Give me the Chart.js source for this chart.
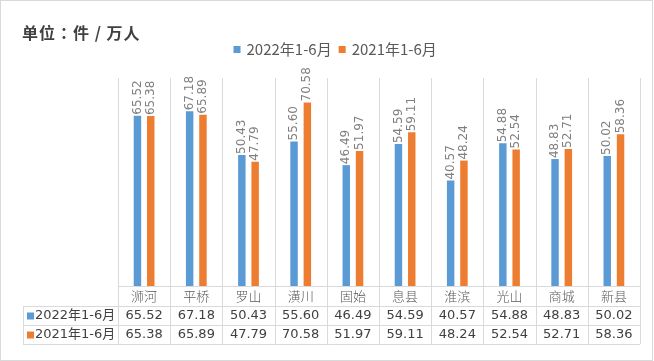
<!DOCTYPE html>
<html>
<head>
<meta charset="utf-8">
<script src="https://cdn.jsdelivr.net/npm/chart.js@4/dist/chart.umd.min.js"></script>
<style>
html,body{margin:0;padding:0;background:#fff;}
canvas{display:block;}
</style>
</head>
<body>
<canvas id="c" width="654" height="361"></canvas>
<script>
const categories = ['浉河','平桥','罗山','潢川','固始','息县','淮滨','光山','商城','新县'];
const seriesNames = ['2022年1-6月','2021年1-6月'];
const values2022 = [65.52,67.18,50.43,55.60,46.49,54.59,40.57,54.88,48.83,50.02];
const values2021 = [65.38,65.89,47.79,70.58,51.97,59.11,48.24,52.54,52.71,58.36];
const colors = ['#5b9bd5','#ed7d31'];
const unitTitle = '单位：件 / 万人';

const LINE = '#d9d9d9';
const CJK = '"Noto Sans CJK SC"';

const tablePlugin = {
  id: 'tablePlugin',
  beforeDatasetsDraw(chart) {
    const ctx = chart.ctx;
    const ca = chart.chartArea;
    const xs = chart.scales.x;
    const n = categories.length;
    const step = (ca.right - ca.left) / n;
    const rowCat = ca.bottom + 20, row1 = rowCat + 19, row2 = row1 + 19;
    const tableLeft = 23;
    ctx.save();
    // outer border
    ctx.strokeStyle = LINE; ctx.lineWidth = 1;
    ctx.strokeRect(0.5, 0.5, chart.width - 2, chart.height - 1);
    // vertical lines
    ctx.beginPath();
    for (let i = 0; i <= n; i++) {
      const x = Math.round(xs.getPixelForValue(i) - step / 2) + 0.5;
      ctx.moveTo(x, ca.top); ctx.lineTo(x, row2);
    }
    ctx.moveTo(tableLeft + 0.5, rowCat); ctx.lineTo(tableLeft + 0.5, row2);
    // horizontal lines
    ctx.moveTo(ca.left, ca.bottom + 0.5); ctx.lineTo(ca.right, ca.bottom + 0.5);
    [rowCat, row1, row2].forEach(y => { ctx.moveTo(tableLeft, y + 0.5); ctx.lineTo(ca.right, y + 0.5); });
    ctx.stroke();

    // category labels
    ctx.textAlign = 'center'; ctx.textBaseline = 'middle';
    ctx.fillStyle = '#595959';
    ctx.font = '300 13px ' + CJK;
    categories.forEach((c, i) => ctx.fillText(c, xs.getPixelForValue(i), ca.bottom + 10));
    // values
    ctx.fillStyle = '#404040';
    ctx.font = '13px "DejaVu Sans", ' + CJK;
    const rows = [values2022, values2021];
    const ys = [rowCat + 10, row1 + 10];
    rows.forEach((arr, r) => arr.forEach((v, i) => ctx.fillText(v.toFixed(2), xs.getPixelForValue(i), ys[r])));
    // series labels
    ctx.textAlign = 'left';
    chart.data.datasets.forEach((ds, r) => {
      ctx.fillStyle = ds.backgroundColor;
      ctx.fillRect(27, ys[r] - 3.5, 7, 7);
      ctx.fillStyle = '#404040';
      ctx.fillText(ds.label, 35, ys[r]);
    });

    // title
    ctx.font = 'bold 16px "Noto Sans CJK TC", ' + CJK;
    ctx.letterSpacing = '1px';
    ctx.fillStyle = '#404040';
    ctx.textAlign = 'left';
    ctx.fillText(unitTitle, 22, 33);
    ctx.letterSpacing = '0px';

    // legend
    ctx.font = '15px "Liberation Sans Narrow", ' + CJK;
    const widths = chart.data.datasets.map(ds => ctx.measureText(ds.label).width);
    const box = 7, gap = 6, sep = 7;
    let lx = 233.5;
    chart.data.datasets.forEach((ds, r) => {
      ctx.fillStyle = ds.backgroundColor;
      ctx.fillRect(lx, 46, box, box);
      lx += box + gap;
      ctx.fillStyle = '#595959';
      ctx.fillText(ds.label, lx, 49.5);
      lx += widths[r] + sep;
    });
    ctx.restore();
  },
  afterDatasetsDraw(chart) {
    const ctx = chart.ctx;
    ctx.save();
    ctx.font = '12px "DejaVu Sans"';
    ctx.fillStyle = '#7f7f7f';
    ctx.textAlign = 'left';
    ctx.textBaseline = 'middle';
    chart.data.datasets.forEach((ds, d) => {
      const meta = chart.getDatasetMeta(d);
      meta.data.forEach((bar, i) => {
        ctx.save();
        ctx.translate(bar.x, bar.y - 1);
        ctx.rotate(-Math.PI / 2);
        ctx.fillText(ds.data[i].toFixed(2), 0, 0);
        ctx.restore();
      });
    });
    ctx.restore();
  }
};

new Chart(document.getElementById('c'), {
  type: 'bar',
  data: {
    labels: categories,
    datasets: [
      { label: seriesNames[0], data: values2022, backgroundColor: colors[0] },
      { label: seriesNames[1], data: values2021, backgroundColor: colors[1] }
    ]
  },
  options: {
    responsive: false,
    devicePixelRatio: 1,
    animation: false,
    layout: { padding: { left: 118, right: 14, top: 78, bottom: 75 } },
    categoryPercentage: 0.51,
    barPercentage: 0.56,
    scales: {
      x: { display: false },
      y: { display: false, min: 0, max: 80 }
    },
    plugins: { legend: { display: false }, title: { display: false }, tooltip: { enabled: false } }
  },
  plugins: [tablePlugin]
});
</script>
</body>
</html>
